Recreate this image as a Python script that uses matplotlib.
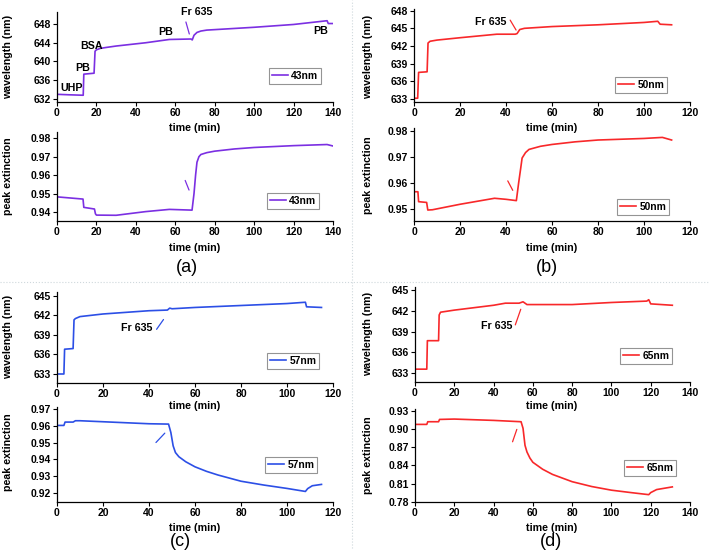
import matplotlib
matplotlib.use("Agg")
import matplotlib.pyplot as plt
from matplotlib.lines import Line2D

plt.rcParams['font.family'] = ['Liberation Sans', 'DejaVu Sans']

W, H = 709, 551

# ---- data ----
# (a) 43 nm
t_a_wl = [0, 6, 13.3, 13.6, 18.8, 19.3, 20, 22, 25, 30, 45, 57, 68, 68.6, 69.5, 71, 73, 76, 80, 100, 120, 137, 137.6, 140]
wl_a = [633.0, 632.9, 632.8, 637.3, 637.5, 642.2, 642.5, 642.8, 643.0, 643.3, 644.0, 644.7, 644.8, 644.6, 645.6, 646.2, 646.5, 646.7, 646.8, 647.3, 647.9, 648.7, 648.1, 648.1]
t_a_ex = [0, 13.2, 13.6, 19, 19.5, 20, 30, 45, 57, 68.5, 69.5, 70.3, 71, 72, 73, 76, 80, 90, 100, 120, 137, 140]
ex_a = [0.9482, 0.9470, 0.9425, 0.9416, 0.9390, 0.9383, 0.9382, 0.9402, 0.9414, 0.9410, 0.9500, 0.9600, 0.9670, 0.9700, 0.9712, 0.9722, 0.9730, 0.9742, 0.9750, 0.9760, 0.9766, 0.9758]

# (b) 50 nm
t_b_wl = [0, 1.6, 2.0, 5.7, 6.1, 7, 10, 20, 36, 44, 44.8, 46, 48, 60, 80, 100, 106, 107, 112]
wl_b = [633.1, 633.1, 637.5, 637.6, 642.5, 642.8, 643.0, 643.4, 644.0, 644.0, 644.1, 644.8, 645.0, 645.3, 645.6, 646.0, 646.2, 645.7, 645.6]
t_b_ex = [0, 1.7, 2.0, 5.5, 6.0, 8, 20, 35, 40, 44.5, 45.5, 46.3, 47, 48.5, 50, 55, 60, 70, 80, 100, 108, 112]
ex_b = [0.9566, 0.9566, 0.9528, 0.9525, 0.9496, 0.9497, 0.9518, 0.9541, 0.9537, 0.9532, 0.9600, 0.9650, 0.9695, 0.9716, 0.9728, 0.9740, 0.9747, 0.9757, 0.9764, 0.9770, 0.9774, 0.9764]

# (c) 57 nm
t_c_wl = [0, 3, 3.3, 7, 7.4, 8, 10, 20, 40, 48, 49, 50, 60, 80, 100, 108, 108.5, 115]
wl_c = [633.0, 633.0, 636.8, 636.9, 641.3, 641.5, 641.8, 642.2, 642.7, 642.8, 643.1, 643.0, 643.2, 643.5, 643.8, 644.0, 643.3, 643.2]
t_c_ex = [0, 3, 3.5, 7, 8, 10, 20, 40, 48.5, 49.5, 50.5, 51.5, 53, 56, 60, 65, 70, 80, 90, 100, 108, 109, 111, 115]
ex_c = [0.9602, 0.9602, 0.9622, 0.9622, 0.9630, 0.9630, 0.9624, 0.9612, 0.9610, 0.9560, 0.9480, 0.9440, 0.9415, 0.9385, 0.9355, 0.9328, 0.9306, 0.9269, 0.9246, 0.9226, 0.9208, 0.9225, 0.9242, 0.9250]

# (d) 65 nm
t_d_wl = [0, 6, 6.3, 12, 12.3, 13, 20, 40, 46, 53, 55, 57, 80, 100, 118, 119, 120, 131]
wl_d = [633.6, 633.6, 637.7, 637.7, 641.4, 641.8, 642.1, 642.8, 643.1, 643.1, 643.3, 642.9, 642.9, 643.2, 643.4, 643.6, 643.0, 642.8]
t_d_ex = [0, 6, 6.5, 12, 12.5, 20, 40, 54, 55, 56, 57, 58.5, 60, 65, 70, 80, 90, 100, 110, 119, 120, 123, 131]
ex_d = [0.9075, 0.9075, 0.9119, 0.9119, 0.9157, 0.9163, 0.9141, 0.9119, 0.9010, 0.8730, 0.8620, 0.8520, 0.8450, 0.8335, 0.8250, 0.8130, 0.8050, 0.7990, 0.7950, 0.7916, 0.7950, 0.8000, 0.8044]

purple = '#7b2fe2'
red = '#f8282a'
blue = '#2c4fe6'

fig = plt.figure(figsize=(W / 100, H / 100), dpi=100)


def px_axes(l, t, r, b):
    return fig.add_axes([l / W, 1 - b / H, (r - l) / W, (b - t) / H])


def style(ax, xmax, xstep, ylim, yticks, fmt):
    ax.set_xlim(0, xmax)
    ax.set_ylim(*ylim)
    ax.set_xticks(range(0, xmax + 1, xstep))
    ax.set_yticks(yticks)
    ax.set_yticklabels([fmt.format(v) for v in yticks])
    for s in ['top', 'right']:
        ax.spines[s].set_visible(False)
    for s in ['left', 'bottom']:
        ax.spines[s].set_linewidth(0.9)
    ax.tick_params(direction='out', length=3, width=0.8, labelsize=7.5, pad=1.5)
    for lab in ax.get_xticklabels() + ax.get_yticklabels():
        lab.set_fontweight('bold')
    ax.patch.set_alpha(0)


def legend(ax, label, cx, cy):
    leg = ax.legend([label], loc='center', bbox_to_anchor=(cx / W, 1 - cy / H),
                    bbox_transform=fig.transFigure, frameon=True, fancybox=False,
                    prop={'weight': 'bold', 'size': 7.4}, handlelength=1.6,
                    handletextpad=0.3, borderpad=0.25, borderaxespad=0)
    leg.get_frame().set_edgecolor('#7a7a7a')
    leg.get_frame().set_linewidth(0.8)


def ftext(x, y, s, **kw):
    fig.text(x / W, 1 - y / H, s, ha='center', va='center', **kw)


def arrow(ax, p0, p1, color):
    ax.annotate('', xy=p1, xytext=p0, arrowprops=dict(arrowstyle='-', color=color, lw=0.9))


bold = dict(fontsize=7.7, fontweight='bold')

# ---------- (a) ----------
ax = px_axes(57, 12, 333, 102)
ax.plot(t_a_wl, wl_a, color=purple, lw=1.2)
style(ax, 140, 20, (631.36, 650.56), [632, 636, 640, 644, 648], '{:d}')
legend(ax, '43nm', 295, 76)
for s, x, y in [('UHP', 7.5, 634.4), ('PB', 13, 638.6), ('BSA', 17.5, 643.4),
                ('PB', 55, 646.3), ('Fr 635', 71, 650.6), ('PB', 133.7, 646.4)]:
    ax.text(x, y, s, ha='center', va='center', **bold)
arrow(ax, (65, 649.0), (67.5, 645.3), purple)

ax = px_axes(57, 132, 333, 221)
ax.plot(t_a_ex, ex_a, color=purple, lw=1.2)
style(ax, 140, 20, (0.9351, 0.9834), [0.94, 0.95, 0.96, 0.97, 0.98], '{:.2f}')
legend(ax, '43nm', 293, 201)
arrow(ax, (64.5, 0.9585), (67.5, 0.9505), purple)

ftext(8, 57, 'wavelength (nm)', rotation=90, **bold)
ftext(8, 176, 'peak extinction', rotation=90, **bold)
ftext(195, 128, 'time (min)', **bold)
ftext(195, 248, 'time (min)', **bold)
ftext(187, 267, '(a)', fontsize=13)

# ---------- (b) ----------
ax = px_axes(414, 9, 690, 102)
ax.plot(t_b_wl, wl_b, color=red, lw=1.2)
style(ax, 120, 20, (632.46, 648.29), [633, 636, 639, 642, 645, 648], '{:d}')
legend(ax, '50nm', 641, 85)
ax.text(33.2, 646.0, 'Fr 635', ha='center', va='center', **bold)
arrow(ax, (41.2, 646.8), (45, 644.3), red)

ax = px_axes(414, 128, 690, 221)
ax.plot(t_b_ex, ex_b, color=red, lw=1.2)
style(ax, 120, 20, (0.9454, 0.9810), [0.95, 0.96, 0.97, 0.98], '{:.2f}')
legend(ax, '50nm', 643, 207)
arrow(ax, (40.2, 0.9617), (43.5, 0.9562), red)

ftext(368, 57, 'wavelength (nm)', rotation=90, **bold)
ftext(368, 175, 'peak extinction', rotation=90, **bold)
ftext(552, 128, 'time (min)', **bold)
ftext(552, 248, 'time (min)', **bold)
ftext(547, 267, '(b)', fontsize=13)

# ---------- (c) ----------
ax = px_axes(57, 292, 333, 383)
ax.plot(t_c_wl, wl_c, color=blue, lw=1.2)
style(ax, 120, 20, (631.62, 645.57), [633, 636, 639, 642, 645], '{:d}')
legend(ax, '57nm', 293, 361)
ax.text(34.7, 640.1, 'Fr 635', ha='center', va='center', **bold)
arrow(ax, (42.6, 639.5), (47, 641.7), blue)

ax = px_axes(57, 407, 333, 502)
ax.plot(t_c_ex, ex_c, color=blue, lw=1.2)
style(ax, 120, 20, (0.9145, 0.9712), [0.92, 0.93, 0.94, 0.95, 0.96, 0.97], '{:.2f}')
legend(ax, '57nm', 291, 465)
arrow(ax, (42.2, 0.9488), (47.7, 0.9568), blue)

ftext(8, 337, 'wavelength (nm)', rotation=90, **bold)
ftext(8, 452, 'peak extinction', rotation=90, **bold)
ftext(195, 406, 'time (min)', **bold)
ftext(195, 528, 'time (min)', **bold)
ftext(180, 542, '(c)', fontsize=13)

# ---------- (d) ----------
ax = px_axes(415, 287, 690, 382)
ax.plot(t_d_wl, wl_d, color=red, lw=1.2)
style(ax, 140, 20, (631.75, 645.43), [633, 636, 639, 642, 645], '{:d}')
legend(ax, '65nm', 646, 356)
ax.text(41.7, 639.8, 'Fr 635', ha='center', va='center', **bold)
arrow(ax, (50.6, 639.6), (54.3, 642.6), red)

ax = px_axes(415, 409, 690, 502)
ax.plot(t_d_ex, ex_d, color=red, lw=1.2)
style(ax, 140, 20, (0.7795, 0.9329), [0.78, 0.81, 0.84, 0.87, 0.90, 0.93], '{:.2f}')
legend(ax, '65nm', 650, 468)
arrow(ax, (49.2, 0.8745), (52.3, 0.9036), red)

ftext(368, 334, 'wavelength (nm)', rotation=90, **bold)
ftext(368, 455, 'peak extinction', rotation=90, **bold)
ftext(552, 406, 'time (min)', **bold)
ftext(552, 528, 'time (min)', **bold)
ftext(551, 541, '(d)', fontsize=13)

# separators between the four panels
fig.add_artist(Line2D([0, 1], [1 - 282 / H, 1 - 282 / H], transform=fig.transFigure,
                      color='#cfd8dc', lw=0.8, ls=':'))
fig.add_artist(Line2D([352 / W, 352 / W], [1 - 548 / H, 1], transform=fig.transFigure,
                      color='#cfd8dc', lw=0.8, ls=':'))

fig.savefig('out.png', dpi=100)
